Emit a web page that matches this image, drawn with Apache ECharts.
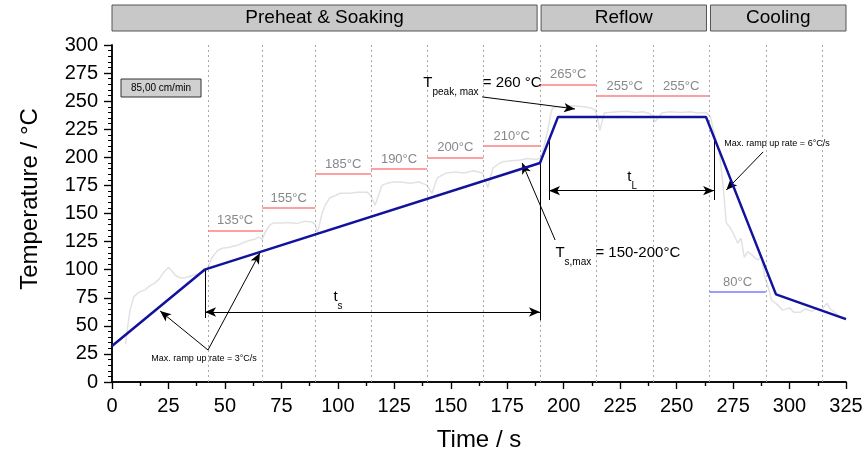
<!DOCTYPE html>
<html><head><meta charset="utf-8">
<script src="https://cdn.jsdelivr.net/npm/echarts@6/dist/echarts.min.js"></script>
<style>html,body{margin:0;padding:0;background:#fff}#c{width:867px;height:459px}</style>
</head><body><div id="c"></div><script>
// ---- data ----
const profileTime = [0, 41, 189.5, 197.5, 263, 294, 325];
const profileTemp = [32, 100, 195, 236, 236, 78, 56];
const measuredTime = [6,7,8,9.7,12,14.6,17,19,21,23,25,26.5,28,30,32,34,36,38,40,42,44,45.5,47,49,52,54,56,58,60.7,63,65,66.5,68,70,71.5,75,78,82,85,88.5,90,91,93,94.5,96.5,99,101,105,109,113,114.5,116.5,118,119.5,122,124.5,128,132,136,139.5,141.7,143,144,146,148,152,156,160,164,166.5,167.5,168.7,171,173,177,180.7,184,188,190,191.5,193,194,195,197,200,204,208.6,212,214,215,216,217,218,220,223.6,228,232,235,238,239.5,240.5,242,243.5,247,252,256,259,263,265,267,269,270.6,272,273.5,275,277,278.5,280,281.5,283.4,285,286,287.5,289,290.5,292,294,297,300,302,304.7,307,310,312,314,316.6,318,320,322.4,325];
const measuredTemp = [34,50,64,76,80,82,86,88,92,98,102,99,95,93,92.5,94,95,96,98,99,110,114,117.5,119,120,121,122,124,126,127,129,127,134,140,141.5,141.5,142,141,143,142.5,140,133,150,158,164,166,168,168,169,169,166,157.5,166,175,177,178,178,177,178,175,168,176,181.6,184,186,187,186,188,186,173,182,190.5,194,196,197,197.7,199,198,200,212,224,236,244,245,245,246,245,244,242,235,224,232,239.5,240,240.5,241,240,240.5,239,236,231.5,236,239.5,240.5,240,240.5,239.5,240,236,218,204,174,141.5,138,132.7,123.7,128,111,116,113,110,108.6,112,93.5,85,73,70,64,66,62,62,65,63,66,64,70,65,62,58,57];
const zoneBounds = [42.5, 66.5, 90, 114.7, 139.5, 164.5, 189.5, 214.5, 239.5, 264.5, 289.5, 314.5];
const setpoints = [135, 155, 185, 190, 200, 210, 265, 255, 255, 80];
const setpointLabels = ['135°C','155°C','185°C','190°C','200°C','210°C','265°C','255°C','255°C','80°C'];
const phaseNames = ['Preheat & Soaking', 'Reflow', 'Cooling'];
const phaseBounds = [0, 190, 265, 325];
const speedLabel = '85,00 cm/min';
const xTitle = 'Time / s';
const yTitle = 'Temperature / °C';

// ---- build ----
const FONT = 'Liberation Sans, Arial, sans-serif';
const chart = echarts.init(document.getElementById('c'), null, {renderer: 'canvas'});

const profile = profileTime.map((t, i) => [t, profileTemp[i]]);
const measured = measuredTime.map((t, i) => [t, measuredTemp[i]]);

const spLines = setpoints.map((v, i) => {
  const cool = i === setpoints.length - 1;
  const col = cool ? '#7b7bff' : '#ff8080';
  return [
    {coord: [zoneBounds[i], v], lineStyle: {color: col, width: 1.5, type: 'solid'},
     label: {show: true, formatter: setpointLabels[i], position: 'insideMiddleTop', distance: 3,
             color: '#888', fontSize: 13, fontFamily: FONT}},
    {coord: [zoneBounds[i + 1], v]}
  ];
});

const vLines = zoneBounds.map(z => ({xAxis: z}));

const blk = {color: '#000', width: 1, type: 'solid'};
function seg(a, b, s0, s1) {
  return [{coord: a, symbol: s0, lineStyle: blk}, {coord: b, symbol: s1}];
}
const annotLines = [
  seg([42.5, 28.5], [21.3, 63.2], 'none', 'arrow'),
  seg([42.5, 28.5], [65.5, 114.9], 'none', 'arrow'),
  seg([41.2, 62.3], [189.5, 62.3], 'arrow', 'arrow'),
  seg([41.2, 100], [41.2, 57], 'none', 'none'),
  seg([189.5, 195], [189.5, 55], 'none', 'none'),
  seg([193.5, 170.3], [266.6, 170.3], 'arrow', 'arrow'),
  seg([193.5, 215.5], [193.5, 162], 'none', 'none'),
  seg([266.6, 217.7], [266.6, 162], 'none', 'none'),
  seg([163.9, 253.8], [205, 243.1], 'none', 'arrow'),
  seg([196.2, 126.4], [181.6, 195], 'none', 'arrow'),
  seg([288.3, 204.8], [272, 171], 'none', 'arrow')
];

const richSub = {
  a: {fontSize: 15, color: '#000', fontFamily: FONT, verticalAlign: 'top', lineHeight: 18},
  b: {fontSize: 10, color: '#000', fontFamily: FONT, verticalAlign: 'top', lineHeight: 10, padding: [12, 0, 0, 0]}
};
function txt(coord, formatter, fontSize) {
  return {coord: coord, symbolSize: 1, itemStyle: {color: 'rgba(0,0,0,0)'},
    label: {show: true, position: 'right', distance: 0, formatter: formatter,
      color: '#000', fontSize: fontSize || 15, fontFamily: FONT, rich: richSub}};
}
const annotTexts = [
  txt([137.7, 264.5], '{a|T}{b|peak, max}{a| = 260 °C}'),
  txt([196.2, 113], '{a|T}{b|s,max}{a| = 150-200°C}'),
  txt([97.9, 73.9], '{a|t}{b|s}'),
  txt([228, 180.8], '{a|t}{b|L}'),
  txt([17.3, 20.5], 'Max. ramp up rate = 3°C/s', 9),
  txt([271, 212], 'Max. ramp up rate = 6°C/s', 9)
];

const axisCommon = {
  type: 'value', min: 0, interval: 25,
  axisLine: {show: true, lineStyle: {color: '#000', width: 1.5}},
  splitLine: {show: false}
};

chart.setOption({
  animation: false,
  grid: {left: 112, right: 21, top: 45, bottom: 77, containLabel: false},
  xAxis: [
    Object.assign({}, axisCommon, {position: 'bottom', max: 325,
      axisTick: {show: true, inside: false, length: 7, lineStyle: {color: '#000', width: 1.2}},
      minorTick: {show: true, splitNumber: 2, length: 4, lineStyle: {color: '#000', width: 1.2}},
      axisLabel: {color: '#000', fontSize: 20, fontFamily: FONT, margin: 14},
      name: xTitle, nameLocation: 'middle', nameGap: 46,
      nameTextStyle: {color: '#000', fontSize: 24, fontFamily: FONT}}),
    Object.assign({}, axisCommon, {position: 'top', max: 325,
      axisTick: {show: true, inside: true, length: 7, lineStyle: {color: '#000', width: 1.2}},
      minorTick: {show: true, splitNumber: 2, length: 4, lineStyle: {color: '#000', width: 1.2}},
      axisLabel: {show: false}})
  ],
  yAxis: [
    Object.assign({}, axisCommon, {position: 'left', max: 300,
      axisTick: {show: true, inside: false, length: 8, lineStyle: {color: '#000', width: 1.2}},
      minorTick: {show: true, splitNumber: 5, length: 4, lineStyle: {color: '#000', width: 1}},
      axisLabel: {color: '#000', fontSize: 20, fontFamily: FONT, margin: 14}}),
    Object.assign({}, axisCommon, {position: 'right', max: 300,
      axisTick: {show: true, inside: true, length: 8, lineStyle: {color: '#000', width: 1.2}},
      minorTick: {show: true, splitNumber: 5, length: 4, lineStyle: {color: '#000', width: 1}},
      axisLabel: {show: false}})
  ],
  series: [
    {type: 'line', name: 'zones', data: [], silent: true,
      markLine: {silent: true, symbol: 'none', label: {show: false},
        lineStyle: {color: '#a8a8a8', width: 1, type: [2, 3]}, data: vLines}},
    {type: 'line', name: 'measured', data: measured, showSymbol: false, symbol: 'none', silent: true,
      lineStyle: {color: '#e2e2e2', width: 1.5}, z: 2},
    {type: 'line', name: 'setpoints', data: [], silent: true,
      markLine: {silent: true, symbol: 'none', label: {show: false}, data: spLines}},
    {type: 'line', name: 'profile', data: profile, showSymbol: false, symbol: 'none', silent: true,
      lineStyle: {color: '#12129c', width: 2.5}, z: 5},
    {type: 'line', name: 'annot', data: [], silent: true,
      markLine: {silent: true, symbolSize: [7, 11], label: {show: false}, data: annotLines},
      markPoint: {silent: true, data: annotTexts}}
  ]
});

// phase bars above the plot, positioned from the phase boundaries via the x scale
const gfx = [];
for (let i = 0; i < phaseNames.length; i++) {
  const x0 = chart.convertToPixel({xAxisIndex: 0}, phaseBounds[i]);
  let x1 = chart.convertToPixel({xAxisIndex: 0}, phaseBounds[i + 1]);
  if (i < phaseNames.length - 1) x1 -= 4;
  gfx.push({type: 'rect', shape: {x: x0, y: 5, width: x1 - x0, height: 26},
    style: {fill: '#c8c8c8', stroke: '#555', lineWidth: 1}});
  gfx.push({type: 'text', x: (x0 + x1) / 2, y: 18,
    style: {text: phaseNames[i], fill: '#000', font: '19px ' + FONT, align: 'center', verticalAlign: 'middle'}});
}
gfx.push({type: 'rect', shape: {x: 121, y: 79, width: 80, height: 18},
  style: {fill: '#d0d0d0', stroke: '#333', lineWidth: 1}});
gfx.push({type: 'text', x: 161, y: 88,
  style: {text: speedLabel, fill: '#000', font: '10px ' + FONT, align: 'center', verticalAlign: 'middle'}});
// y-axis title
gfx.push({type: 'text', x: 30, y: 199, rotation: Math.PI / 2,
  style: {text: yTitle, fill: '#000', font: '24px ' + FONT, align: 'center', verticalAlign: 'middle'}});
chart.setOption({graphic: gfx});
</script></body></html>
